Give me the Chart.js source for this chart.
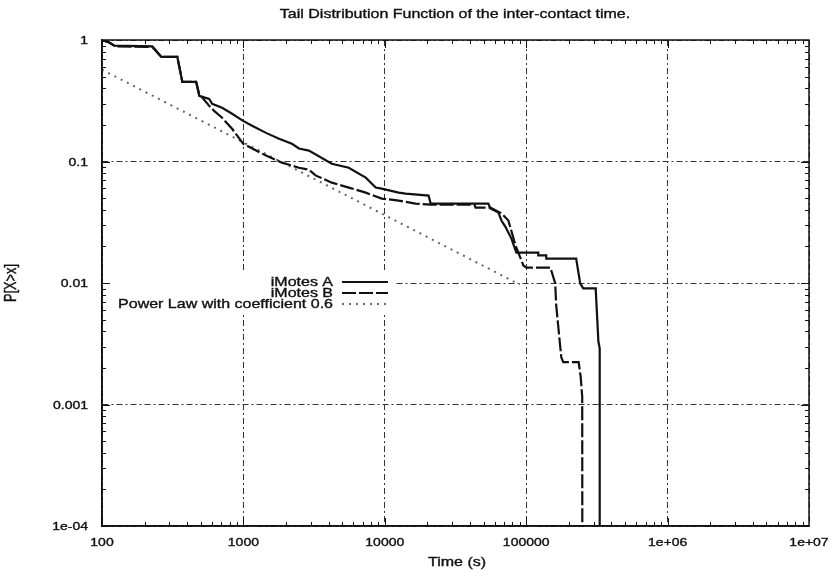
<!DOCTYPE html>
<html>
<head>
<meta charset="utf-8">
<script src="https://cdn.jsdelivr.net/npm/chart.js@4.4.1/dist/chart.umd.min.js"></script>
<style>
  html, body { margin: 0; padding: 0; background: #fff; }
  #wrap { width: 837px; height: 578px; }
</style>
</head>
<body>
<div id="wrap"><canvas id="tdf" width="837" height="578"></canvas></div>
<script>
// tick values and their labels
const xTicks = [100, 1000, 10000, 100000, 1e6, 1e7];
const xTickLabels = ['100', '1000', '10000', '100000', '1e+06', '1e+07'];
const yTicks = [1e-4, 1e-3, 1e-2, 1e-1, 1];
const yTickLabels = ['1e-04', '0.001', '0.01', '0.1', '1'];

// iMotes A
const motesAX = [100, 110, 122, 227, 263, 341, 370, 463, 487, 573, 601, 707, 832, 995,
  1152, 1445, 1786, 2203, 2470, 2904, 4220, 5560, 7330, 8630, 9510, 12530, 14030, 20400, 21100,
  43100, 54000, 55800, 63600, 66800, 71300, 78600, 85200, 121700, 121700, 138600, 138600,
  225600, 240900, 253000, 310000, 324000, 331000, 331000];
const motesAY = [1, 0.97, 0.9, 0.885, 0.725, 0.725, 0.452, 0.452, 0.347, 0.328, 0.298, 0.277, 0.247, 0.216,
  0.197, 0.172, 0.154, 0.14, 0.128, 0.123, 0.0959, 0.0889, 0.0736, 0.061, 0.0598, 0.0554, 0.0544, 0.0524, 0.045,
  0.045, 0.045, 0.041, 0.038, 0.0327, 0.029, 0.0232, 0.0178, 0.0178, 0.0169, 0.0169, 0.0159,
  0.0159, 0.00993, 0.00903, 0.00903, 0.0033, 0.0029, 0.000001];

// iMotes B
const motesBX = [100, 113, 125, 227, 263, 341, 370, 463, 487, 573, 621, 707, 832, 995,
  1230, 1445, 1875, 2470, 2904, 3258, 4220, 5560, 7330, 9510, 12530, 16500, 21100, 43100, 43800,
  55800, 66800, 74800, 84000, 95500, 100200, 148000, 152000, 160400, 163000,
  177000, 182800, 235000, 243000, 249000, 250000];
const motesBY = [1, 0.95, 0.885, 0.877, 0.725, 0.725, 0.452, 0.452, 0.36, 0.287, 0.261, 0.229, 0.186, 0.14,
  0.123, 0.112, 0.0978, 0.0889, 0.0857, 0.0765, 0.067, 0.061, 0.0554, 0.0495, 0.0477, 0.045, 0.0442, 0.0442, 0.0418,
  0.0418, 0.0375, 0.0327, 0.0204, 0.01395, 0.0134, 0.0134, 0.0122, 0.00993, 0.00655,
  0.00245, 0.00223, 0.00223, 0.00168, 0.00115, 0.000001];

// power law fit, coefficient 0.6
const powerX = [100, 90000];
const powerY = [0.57, 0.0097];

const seriesNames = ['iMotes A', 'iMotes B', 'Power Law with coefficient 0.6'];

const FONT = 'Liberation Sans, Arial, sans-serif';
const INK = '#111';
const SQUISH = 0.8; // the scanned original is flattened vertically

function pts(xs, ys) {
  return xs.map((x, i) => ({ x: x, y: ys[i] }));
}

function ink(ctx, s, size, align) {
  ctx.font = size + 'px ' + FONT;
  ctx.fillStyle = INK;
  ctx.strokeStyle = INK;
  ctx.lineWidth = 0.45;
  ctx.textAlign = align;
  ctx.textBaseline = 'middle';
  ctx.fillText(s, 0, 0);
  ctx.strokeText(s, 0, 0);
}

function txt(ctx, s, x, y, align, size) {
  ctx.save();
  ctx.translate(x, y);
  ctx.scale(1, SQUISH);
  ink(ctx, s, size, align);
  ctx.restore();
}

// frame, inward tick marks, tick labels, key and titles (gnuplot look)
const framePlugin = {
  id: 'frame',
  beforeDatasetsDraw(chart) {
    // opaque key box hides the grid behind it
    const ctx = chart.ctx;
    ctx.save();
    ctx.fillStyle = '#fff';
    ctx.fillRect(104, 273, 292, 41);
    ctx.restore();
  },
  afterDatasetsDraw(chart) {
    const ctx = chart.ctx;
    const a = chart.chartArea;
    const xs = chart.scales.x, ys = chart.scales.y;
    ctx.save();
    ctx.strokeStyle = '#111';
    ctx.lineWidth = 1.5;
    ctx.strokeRect(a.left, a.top, a.right - a.left, a.bottom - a.top);

    ctx.lineWidth = 1;
    ctx.beginPath();
    for (let d = 100; d < 1e7; d *= 10) {
      for (let k = 1; k <= 9; k++) {
        const px = Math.round(xs.getPixelForValue(k * d)) + 0.5;
        const len = k === 1 ? 8 : 4;
        ctx.moveTo(px, a.bottom); ctx.lineTo(px, a.bottom - len);
        ctx.moveTo(px, a.top); ctx.lineTo(px, a.top + len);
      }
    }
    for (let d = 1e-4; d < 1; d *= 10) {
      for (let k = 1; k <= 9; k++) {
        const py = Math.round(ys.getPixelForValue(k * d)) + 0.5;
        const len = k === 1 ? 8 : 4;
        ctx.moveTo(a.left, py); ctx.lineTo(a.left + len, py);
        ctx.moveTo(a.right, py); ctx.lineTo(a.right - len, py);
      }
    }
    ctx.stroke();
    ctx.restore();

    // tick labels
    xTicks.forEach((v, i) => txt(ctx, xTickLabels[i], xs.getPixelForValue(v), a.bottom + 17, 'center', 14));
    yTicks.forEach((v, i) => txt(ctx, yTickLabels[i], a.left - 14, ys.getPixelForValue(v) + 1, 'right', 14));

    // key
    const rows = [282, 293, 304];
    chart.data.datasets.forEach((ds, i) => {
      txt(ctx, ds.label, 333, rows[i], 'right', 16);
      ctx.save();
      ctx.strokeStyle = ds.borderColor;
      ctx.lineWidth = ds.borderWidth;
      ctx.setLineDash(ds.borderDash || []);
      ctx.beginPath();
      ctx.moveTo(342, rows[i]);
      ctx.lineTo(388, rows[i]);
      ctx.stroke();
      ctx.restore();
    });

    // titles
    txt(ctx, 'Tail Distribution Function of the inter-contact time.', 455, 14, 'center', 16);
    txt(ctx, 'Time (s)', 457, 562, 'center', 16);
    ctx.save();
    ctx.translate(12, 283);
    ctx.rotate(-Math.PI / 2);
    ctx.scale(SQUISH, 1);
    ink(ctx, 'P[X>x]', 16, 'center');
    ctx.restore();
  }
};

const gridDash = [6, 3, 2, 3];

new Chart(document.getElementById('tdf'), {
  type: 'line',
  data: {
    datasets: [
      {
        label: seriesNames[0],
        data: pts(motesAX, motesAY),
        borderColor: '#111',
        borderWidth: 2.2,
        pointRadius: 0,
        fill: false,
        tension: 0
      },
      {
        label: seriesNames[1],
        data: pts(motesBX, motesBY),
        borderColor: '#111',
        borderWidth: 2.2,
        borderDash: [14, 3],
        pointRadius: 0,
        fill: false,
        tension: 0
      },
      {
        label: seriesNames[2],
        data: pts(powerX, powerY),
        borderColor: '#666',
        borderWidth: 2,
        borderDash: [2, 5],
        pointRadius: 0,
        fill: false,
        tension: 0
      }
    ]
  },
  options: {
    responsive: false,
    animation: false,
    devicePixelRatio: 1,
    layout: { padding: { left: 0, right: 28, top: 40, bottom: 0 } },
    plugins: {
      legend: { display: false },
      tooltip: { enabled: false },
      title: { display: false }
    },
    scales: {
      x: {
        type: 'logarithmic',
        min: 100,
        max: 1e7,
        afterBuildTicks: s => { s.ticks = xTicks.map(v => ({ value: v })); },
        afterFit: s => { s.height = 52; },
        ticks: { display: false, autoSkip: false },
        grid: { color: '#333', lineWidth: 1, drawTicks: false },
        border: { display: true, color: '#111', width: 1.5, dash: gridDash }
      },
      y: {
        type: 'logarithmic',
        min: 1e-4,
        max: 1,
        afterBuildTicks: s => { s.ticks = yTicks.map(v => ({ value: v })); },
        afterFit: s => { s.width = 102; },
        ticks: { display: false, autoSkip: false },
        grid: { color: '#333', lineWidth: 1, drawTicks: false },
        border: { display: true, color: '#111', width: 1.5, dash: gridDash }
      }
    }
  },
  plugins: [framePlugin]
});
</script>
</body>
</html>
